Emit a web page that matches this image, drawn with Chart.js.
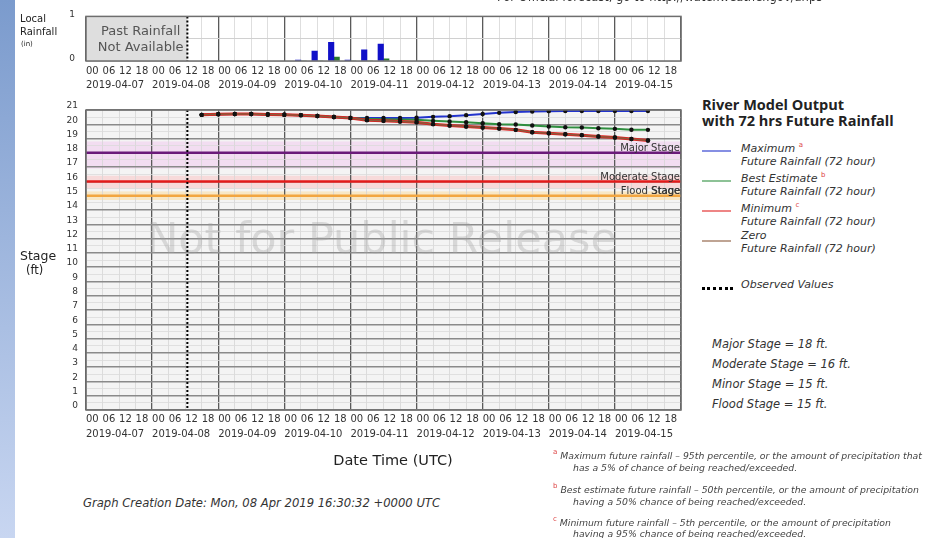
<!DOCTYPE html>
<html>
<head>
<meta charset="utf-8">
<title>River Model Output</title>
<script src="https://cdn.jsdelivr.net/npm/chart.js@4.4.0/dist/chart.umd.min.js"></script>
<style>
  body { margin: 0; width: 943px; height: 538px; position: relative; overflow: hidden; background: #fff; font-family: 'DejaVu Sans', sans-serif; color: #222; }
  #side { position: absolute; left: 0; top: 0; width: 15px; height: 538px; background: linear-gradient(#7b9bcd, #c8d6f1); }
  canvas { position: absolute; left: 0; }
  #rainCanvas { top: 0; }
  #stageCanvas { top: 95px; }
  .t { position: absolute; white-space: nowrap; }
  .lg { font-style: italic; font-size: 11px; line-height: 13.3px; color: #333; }
  .sup { color: #d44; font-size: 7px; vertical-align: 5px; font-style: normal; }
  .key { position: absolute; left: 702px; width: 29px; height: 2px; }
  .note { font-style: italic; font-size: 9.3px; line-height: 12px; color: #444; }
</style>
</head>
<body>
<div id="side"></div>
<canvas id="rainCanvas" width="700" height="100"></canvas>
<canvas id="stageCanvas" width="700" height="355"></canvas>

<div class="t" style="left:497px;top:-10px;font-size:11.5px;line-height:14px;color:#333">For Official forecast, go to http://water.weather.gov/ahps</div>
<div class="t" style="left:20px;top:12px;font-size:10px;line-height:14px">Local</div>
<div class="t" style="left:20px;top:25px;font-size:10px;line-height:14px">Rainfall</div>
<div class="t" style="left:21px;top:39px;font-size:7px;line-height:10px">(in)</div>
<div class="t" style="left:20px;top:248px;font-size:12.5px;line-height:16px">Stage</div>
<div class="t" style="left:26px;top:263px;font-size:11.5px;line-height:14px">(ft)</div>

<div class="t" style="left:702px;top:97px;font-family:'Open Sans';font-weight:bold;font-size:14.5px;line-height:16px;color:#222">River Model Output<br>with 72 hrs Future Rainfall</div>
<div id="legend"></div>
<div class="t lg" style="left:741px;top:278px">Observed Values</div>
<div style="position:absolute;left:702px;top:287px;width:31px;border-top:3px dotted #000"></div>
<div id="stageText"></div>

<div class="t" style="left:243px;width:300px;text-align:center;top:451px;font-size:14.5px;line-height:18px">Date Time (UTC)</div>
<div class="t" style="left:83px;top:496px;font-style:italic;font-size:11.6px;line-height:14px;color:#333">Graph Creation Date: Mon, 08 Apr 2019 16:30:32 +0000 UTC</div>

<div class="t note" style="left:553px;top:446px"><span class="sup">a</span> Maximum future rainfall – 95th percentile, or the amount of precipitation that</div>
<div class="t note" style="left:573px;top:462px">has a 5% of chance of being reached/exceeded.</div>
<div class="t note" style="left:553px;top:480px"><span class="sup">b</span> Best estimate future rainfall – 50th percentile, or the amount of precipitation</div>
<div class="t note" style="left:573px;top:496px">having a 50% chance of being reached/exceeded.</div>
<div class="t note" style="left:553px;top:513px"><span class="sup">c</span> Minimum future rainfall – 5th percentile, or the amount of precipitation</div>
<div class="t note" style="left:573px;top:528px">having a 95% chance of being reached/exceeded.</div>

<script>
// hours are counted from 2019-04-07 00 UTC
const dateLabels = ['2019-04-07', '2019-04-08', '2019-04-09', '2019-04-10', '2019-04-11', '2019-04-12', '2019-04-13', '2019-04-14', '2019-04-15'];
const hourLabels = ['00', '06', '12', '18'];
const pastEndHour = 36.8;

const rainHours = [78, 84, 90, 96, 102, 108];
const rainBlue = [0.02, 0.22, 0.42, 0.02, 0.25, 0.38];
const rainGreen = [0, 0, 0.09, 0, 0, 0.05];

const forecastHours = [42, 48, 54, 60, 66, 72, 78, 84, 90, 96, 102, 108, 114, 120, 126, 132, 138, 144, 150, 156, 162, 168, 174, 180, 186, 192, 198, 204];
const maxStage = [20.66, 20.71, 20.72, 20.72, 20.69, 20.67, 20.64, 20.58, 20.51, 20.44, 20.44, 20.44, 20.44, 20.46, 20.52, 20.56, 20.64, 20.72, 20.8, 20.86, 20.9, 20.92, 20.93, 20.93, 20.93, 20.93, 20.93, 20.93];
const bestStage = [20.66, 20.71, 20.72, 20.72, 20.69, 20.67, 20.64, 20.58, 20.51, 20.44, 20.38, 20.36, 20.34, 20.31, 20.24, 20.19, 20.14, 20.08, 20.01, 19.99, 19.91, 19.84, 19.79, 19.77, 19.72, 19.68, 19.62, 19.61];
const minStage = [20.66, 20.71, 20.72, 20.72, 20.69, 20.67, 20.64, 20.58, 20.51, 20.44, 20.29, 20.24, 20.19, 20.14, 20.01, 19.91, 19.84, 19.77, 19.71, 19.61, 19.44, 19.37, 19.3, 19.24, 19.14, 19.07, 18.97, 18.86];
const zeroStage = [20.66, 20.71, 20.72, 20.72, 20.69, 20.67, 20.64, 20.58, 20.51, 20.44, 20.29, 20.24, 20.19, 20.14, 20.01, 19.91, 19.84, 19.77, 19.71, 19.61, 19.44, 19.37, 19.3, 19.24, 19.14, 19.07, 18.97, 18.86];

const scenarioNames = ['Maximum', 'Best Estimate', 'Minimum', 'Zero'];
const scenarioNotes = ['a', 'b', 'c', ''];
const stageNames = ['Major Stage', 'Moderate Stage', 'Minor Stage', 'Flood Stage'];
const stageValues = [18, 16, 15, 15];

const scenarioColors = ['#2233cc', '#2f8f3f', '#e02020', '#8b5a3c'];
const stageColors = ['#6a1b7a', '#e31b1b', '#f2a640', '#f2a640'];

Chart.defaults.font.family = "'DejaVu Sans', sans-serif";
Chart.defaults.color = '#333';
Chart.defaults.animation = false;

function timeTick(value) {
  const day = Math.floor(value / 24);
  if (day >= dateLabels.length) return '';
  const hh = hourLabels[(value % 24) / 6];
  return value % 24 === 0 ? [hh, dateLabels[day]] : hh;
}

const isDay = c => c.tick && c.tick.value % 24 === 0;

function timeAxis(height, padding, lineHeight) {
  return {
    type: 'linear', min: 0, max: 216, offset: false,
    afterFit: s => { s.height = height; },
    border: { display: false },
    grid: { offset: false, drawTicks: false, color: c => isDay(c) ? '#5a5a5a' : '#d6d6d6', lineWidth: c => isDay(c) ? 1.3 : 0.8 },
    ticks: { stepSize: 6, autoSkip: false, maxRotation: 0, align: 'start', padding: padding, font: { size: 10, lineHeight: lineHeight }, callback: timeTick }
  };
}

const frame = {
  id: 'frame',
  beforeDraw(chart, args, opts) {
    const { ctx, chartArea: a, scales } = chart;
    ctx.save();
    ctx.fillStyle = opts.bg;
    ctx.fillRect(a.left, a.top, a.width, a.height);
    (opts.bands || []).forEach(b => {
      const y1 = scales.y.getPixelForValue(b.from), y2 = scales.y.getPixelForValue(b.to);
      ctx.fillStyle = b.color;
      ctx.fillRect(a.left, y2, a.width, y1 - y2);
    });
    ctx.restore();
  },
  beforeDatasetsDraw(chart, args, opts) {
    const { ctx, chartArea: a, scales } = chart;
    ctx.save();
    if (opts.pastBox) {
      const x = scales.x.getPixelForValue(pastEndHour);
      ctx.fillStyle = '#dedede';
      ctx.fillRect(a.left, a.top, x - a.left, a.height);
      ctx.fillStyle = '#555';
      ctx.font = "13px 'DejaVu Sans'";
      ctx.textAlign = 'center';
      ctx.textBaseline = 'middle';
      ctx.fillText('Past Rainfall', (a.left + x) / 2 + 4, a.top + 15);
      ctx.fillText('Not Available', (a.left + x) / 2 + 4, a.top + 31);
    }
    if (opts.watermark) {
      ctx.fillStyle = 'rgba(160,160,160,0.35)';
      ctx.font = "43px 'DejaVu Sans'";
      ctx.textAlign = 'center';
      ctx.textBaseline = 'middle';
      ctx.fillText(opts.watermark, (a.left + a.right) / 2 - 2, a.top + a.height * 0.44);
    }
    ctx.restore();
  },
  afterDatasetsDraw(chart, args, opts) {
    const { ctx, chartArea: a, scales } = chart;
    ctx.save();
    if (opts.stageLabels) {
      ctx.fillStyle = '#333';
      ctx.font = "10px 'DejaVu Sans'";
      ctx.textAlign = 'right';
      ctx.textBaseline = 'middle';
      stageNames.forEach((n, i) => {
        if (n === 'Minor Stage') return;
        const y = scales.y.getPixelForValue(stageValues[i]) - 4;
        ctx.fillText(n, a.right - 1, y);
        if (n === 'Flood Stage') ctx.fillText('Stage', a.right - 0.5, y);
      });
    }
    const x = scales.x.getPixelForValue(pastEndHour);
    ctx.strokeStyle = '#000';
    ctx.lineWidth = 2;
    ctx.setLineDash([2, 2]);
    ctx.beginPath();
    ctx.moveTo(x, a.top);
    ctx.lineTo(x, a.bottom);
    ctx.stroke();
    ctx.setLineDash([]);
    ctx.strokeStyle = '#6e6e6e';
    ctx.lineWidth = 1.5;
    ctx.strokeRect(a.left, a.top, a.width, a.height);
    ctx.restore();
  }
};

new Chart(document.getElementById('rainCanvas'), {
  type: 'bar',
  data: {
    datasets: [
      { label: 'Rainfall', data: rainHours.map((h, i) => ({ x: h, y: rainBlue[i] })), backgroundColor: '#1010c8', barThickness: 5.5 },
      { label: 'Rainfall (alt)', data: rainHours.map((h, i) => ({ x: h, y: rainGreen[i] })), backgroundColor: '#2a7a2a', barThickness: 5.5 }
    ]
  },
  options: {
    responsive: false,
    layout: { padding: { top: 10, right: 19, left: 0, bottom: 0 } },
    plugins: { legend: { display: false }, tooltip: { enabled: false }, frame: { bg: '#ffffff', pastBox: true } },
    scales: {
      x: timeAxis(39, 3, 1.4),
      y: {
        min: 0, max: 1,
        afterFit: s => { s.width = 86; },
        border: { display: false },
        grid: { drawTicks: false, color: '#d0d0d0' },
        ticks: { stepSize: 0.5, padding: 11, labelOffset: -2, font: { size: 9 }, callback: v => Number.isInteger(v) ? v : '' }
      }
    }
  },
  plugins: [frame]
});

const scenarioData = [zeroStage, minStage, bestStage, maxStage];
const scenarioOrder = [3, 2, 1, 0];
const stageDatasets = scenarioOrder.map((k, i) => ({
  label: scenarioNames[k] + ' Future Rainfall (72 hour)',
  data: forecastHours.map((h, j) => ({ x: h, y: scenarioData[i][j] })),
  borderColor: scenarioColors[k],
  borderWidth: k === 2 ? 3 : (k === 3 ? 1.5 : 2),
  pointRadius: 2.2,
  pointBackgroundColor: '#111',
  pointBorderWidth: 0
}));
[0, 1, 3].forEach(i => stageDatasets.push({
  label: stageNames[i],
  data: [{ x: 0, y: stageValues[i] }, { x: 216, y: stageValues[i] }],
  borderColor: stageColors[i],
  borderWidth: 2.5,
  pointRadius: 0
}));

new Chart(document.getElementById('stageCanvas'), {
  type: 'line',
  data: { datasets: stageDatasets },
  options: {
    responsive: false,
    layout: { padding: { top: 15, right: 19, left: 0, bottom: 0 } },
    plugins: {
      legend: { display: false }, tooltip: { enabled: false },
      frame: {
        bg: '#f4f4f4', watermark: 'Not for Public Release', stageLabels: true,
        bands: [
          { from: 16.9, to: 18.8, color: 'rgba(240,170,235,0.3)' },
          { from: 15.5, to: 16.4, color: 'rgba(255,140,140,0.25)' },
          { from: 14.7, to: 15.3, color: 'rgba(255,205,110,0.35)' }
        ]
      }
    },
    scales: {
      x: timeAxis(40, 2, 1.5),
      y: {
        min: 0, max: 21,
        afterFit: s => { s.width = 86; },
        border: { display: false },
        grid: { drawTicks: false, color: c => Number.isInteger(c.tick.value) ? '#8a8a8a' : '#dadada', lineWidth: c => Number.isInteger(c.tick.value) ? 1.5 : 0.8 },
        ticks: { stepSize: 0.5, autoSkip: false, padding: 8, labelOffset: -4, font: { size: 9 }, callback: v => Number.isInteger(v) ? v : '' }
      }
    }
  },
  plugins: [frame]
});

// legend and stage notes on the right
const legend = document.getElementById('legend');
scenarioNames.forEach((n, i) => {
  const top = 138.5 + i * 30;
  const note = scenarioNotes[i] ? ' <span class="sup">' + scenarioNotes[i] + '</span>' : '';
  legend.insertAdjacentHTML('beforeend',
    '<div class="key" style="top:' + (top + 11) + 'px;background:' + scenarioColors[i] + ';opacity:0.55"></div>' +
    '<div class="t lg" style="left:741px;top:' + top + 'px">' + n + note + '<br>Future Rainfall (72 hour)</div>');
});
const stageText = document.getElementById('stageText');
stageNames.forEach((n, i) => {
  stageText.insertAdjacentHTML('beforeend',
    '<div class="t lg" style="left:712px;top:' + (338 + i * 20) + 'px;font-size:11.5px">' + n + ' = ' + stageValues[i] + ' ft.</div>');
});
</script>
</body>
</html>
